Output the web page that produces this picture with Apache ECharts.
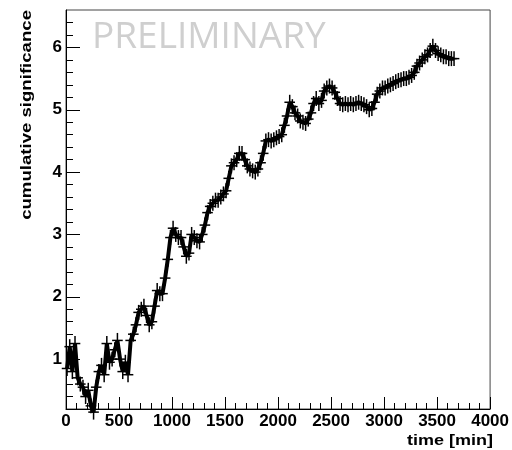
<!DOCTYPE html>
<html>
<head>
<meta charset="utf-8">
<script src="https://cdn.jsdelivr.net/npm/echarts@6/dist/echarts.min.js"></script>
<style>
html,body{margin:0;padding:0;background:#fff;}
#chart{width:512px;height:450px;}
</style>
</head>
<body>
<div id="chart"></div>
<script>
// time [min]
var times = [10,35,60,85,110,135,160,185,210,235,260,285,310,335,360,385,410,435,460,485,
510,535,560,585,610,635,660,685,710,735,760,785,810,835,860,885,910,935,960,985,
1010,1035,1060,1085,1110,1135,1160,1185,1210,1235,1260,1285,1310,1335,1360,1385,1410,1435,1460,1485,
1510,1535,1560,1585,1610,1635,1660,1685,1710,1735,1760,1785,1810,1835,1860,1885,1910,1935,1960,1985,
2010,2035,2060,2085,2110,2135,2160,2185,2210,2235,2260,2285,2310,2335,2360,2385,2410,2435,2460,2485,
2510,2535,2560,2585,2610,2635,2660,2685,2710,2735,2760,2785,2810,2835,2860,2885,2910,2935,2960,2985,
3010,3035,3060,3085,3110,3135,3160,3185,3210,3235,3260,3285,3310,3335,3360,3385,3410,3435,3460,3485,
3510,3535,3560,3585,3610,3635,3660];
// cumulative significance
var significance = [0.85,1.2,0.8,1.25,0.7,0.6,0.55,0.4,0.5,0.25,0.15,0.55,0.8,0.9,0.75,1.25,0.95,1.0,1.15,1.3,
1.0,0.8,0.95,0.75,1.3,1.4,1.55,1.75,1.8,1.85,1.7,1.55,1.6,1.85,2.1,2.05,2.05,2.3,2.6,2.95,
3.1,3.0,2.95,2.95,2.8,2.65,2.7,3.0,2.95,2.9,2.88,3.0,3.15,3.35,3.45,3.5,3.55,3.55,3.6,3.65,
3.7,3.9,4.1,4.15,4.2,4.3,4.3,4.2,4.1,4.05,4.02,4.0,4.05,4.15,4.3,4.5,4.52,4.5,4.52,4.55,
4.57,4.6,4.75,4.9,5.12,5.05,4.95,4.9,4.82,4.8,4.78,4.85,4.95,5.1,5.18,5.1,5.15,5.3,5.35,5.38,
5.35,5.28,5.18,5.1,5.08,5.1,5.08,5.1,5.08,5.1,5.12,5.1,5.08,5.05,5.0,5.02,5.12,5.25,5.3,5.35,
5.35,5.38,5.4,5.42,5.45,5.47,5.48,5.5,5.5,5.52,5.55,5.6,5.7,5.75,5.8,5.85,5.88,5.95,6.02,5.95,
5.9,5.88,5.85,5.85,5.82,5.82,5.82];
var timeErr = 50;      // half width of cross (min)
var sigErr = 0.12;     // half height of cross
var yMajorTicks = [1,2,3,4,5,6];
var yMinorTicks = [0.4,0.6,0.8,1.2,1.4,1.6,1.8,2.2,2.4,2.6,2.8,3.2,3.4,3.6,3.8,4.2,4.4,4.6,4.8,5.2,5.4,5.6,5.8,6.2,6.4];

var pts = times.map(function(t,i){return [t, significance[i]];});

var chart = echarts.init(document.getElementById('chart'), null, {renderer:'canvas'});
var labelFont = {fontFamily:'Liberation Sans, Arial, sans-serif', fontWeight:'bold', fontSize:17, color:'#000'};
chart.setOption({
  animation:false,
  backgroundColor:'#fff',
  grid:{left:66, right:19, top:10, bottom:41, show:true, borderColor:'#444', borderWidth:1, backgroundColor:'transparent'},
  xAxis:{
    type:'value', min:0, max:4000, interval:500,
    axisLine:{show:true, lineStyle:{color:'#000', width:1}},
    axisTick:{show:true, inside:true, length:12, lineStyle:{color:'#000', width:1}},
    minorTick:{show:true, splitNumber:5, length:6, lineStyle:{color:'#000', width:1}},
    splitLine:{show:false}, minorSplitLine:{show:false},
    axisLabel:Object.assign({margin:4, formatter:function(v){return String(v);}}, labelFont)
  },
  yAxis:[{
    type:'value', min:0.2, max:6.6, position:'left',
    axisLine:{show:true, lineStyle:{color:'#000', width:1}},
    axisTick:{show:true, inside:true, length:14, customValues:yMajorTicks, lineStyle:{color:'#000', width:1}},
    axisLabel:Object.assign({margin:4, customValues:yMajorTicks, formatter:function(v){return String(v);}}, labelFont),
    splitLine:{show:false}
  },{
    type:'value', min:0.2, max:6.6, position:'left', offset:0,
    axisLine:{show:false},
    axisTick:{show:true, inside:true, length:7, customValues:yMinorTicks, lineStyle:{color:'#000', width:1}},
    axisLabel:{show:false},
    splitLine:{show:false}
  }],
  graphic:[
    {type:'text', x:92, y:37, z:0, style:{text:'PRELIMINARY', font:'37px "Open Sans", sans-serif', fill:'#cfcfcf', textAlign:'left', textVerticalAlign:'middle'}},
    {type:'text', x:27, y:10, rotation:Math.PI/2, scaleX:1.24, style:{text:'cumulative significance', font:'bold 15px "Liberation Sans", Arial, sans-serif', fill:'#000', textAlign:'right', textVerticalAlign:'middle'}},
    {type:'text', x:493, y:441, scaleX:1.2, style:{text:'time [min]', font:'bold 15px "Liberation Sans", Arial, sans-serif', fill:'#000', textAlign:'right', textVerticalAlign:'middle'}}
  ],
  series:[{
    type:'line', data:pts, symbol:'none', clip:false,
    lineStyle:{color:'#000', width:4}, z:3
  },{
    type:'custom', data:pts, clip:false, z:4,
    renderItem:function(params, api){
      var t = api.value(0), v = api.value(1);
      var l = api.coord([t - timeErr, v]), r = api.coord([t + timeErr, v]);
      var b = api.coord([t, v - sigErr]), u = api.coord([t, v + sigErr]);
      var st = {stroke:'#000', lineWidth:1.5};
      return {type:'group', children:[
        {type:'line', shape:{x1:l[0], y1:l[1], x2:r[0], y2:r[1]}, style:st},
        {type:'line', shape:{x1:b[0], y1:b[1], x2:u[0], y2:u[1]}, style:st}
      ]};
    }
  }]
});
</script>
</body>
</html>
